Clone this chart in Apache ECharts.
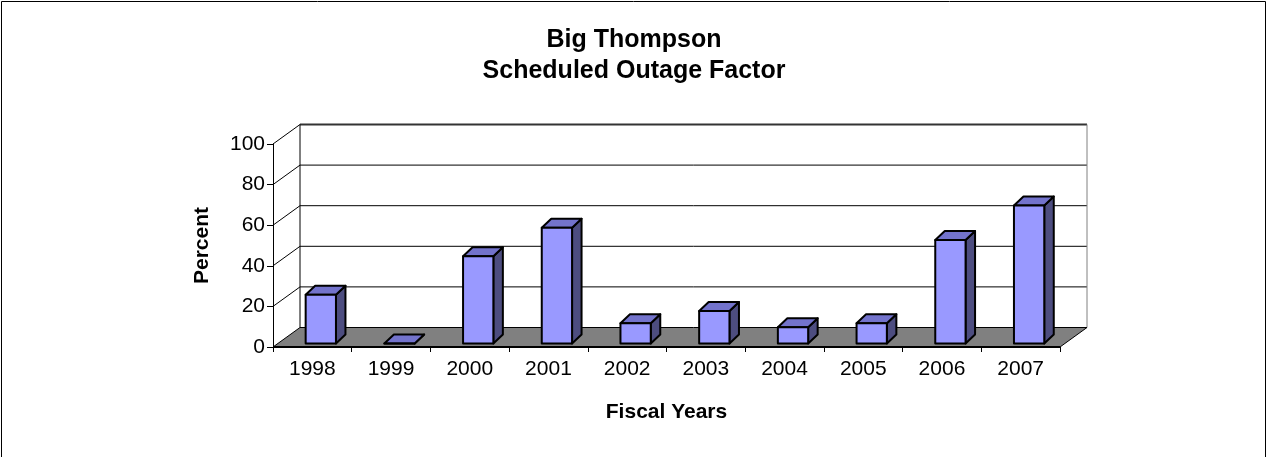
<!DOCTYPE html>
<html>
<head>
<meta charset="utf-8">
<script src="https://cdn.jsdelivr.net/npm/echarts@6/dist/echarts.min.js"></script>
<style>
  html, body { margin: 0; padding: 0; background: #fff; }
  #main { width: 1268px; height: 457px; }
</style>
</head>
<body>
<div id="main"></div>
<script>
// fiscal years and scheduled outage factor (percent)
var years = ['1998', '1999', '2000', '2001', '2002', '2003', '2004', '2005', '2006', '2007'];
var outage = [24, 0, 43, 57, 10, 16, 8, 10, 51, 68];
var yTicks = [0, 20, 40, 60, 80, 100];

var myChart = echarts.init(document.getElementById('main'));
var FONT = '"Liberation Sans", Arial, sans-serif';

// depth of the box (back wall offset) and of the bars
var WALL = [27, -19.5];
var BAR = [9.5, -9];

function renderWalls(params, api) {
    var first = api.coord([0, 0]);
    var last = api.coord([years.length - 1, 0]);
    var w = api.size([1, 0])[0];
    var xl = first[0] - w / 2, xr = last[0] + w / 2;
    var y0 = first[1];
    var ytop = api.coord([0, 100])[1];
    var kids = [];
    // back wall gridlines + diagonals on the side wall
    yTicks.forEach(function (t) {
        var y = api.coord([0, t])[1];
        if (t > 0) {
            kids.push({
                type: 'line',
                shape: { x1: xl + WALL[0], y1: y + WALL[1], x2: xr + WALL[0], y2: y + WALL[1] },
                style: { stroke: t === 100 ? '#333' : '#000', lineWidth: t === 100 ? 2 : 1 }
            });
            kids.push({
                type: 'line',
                shape: { x1: xl, y1: y, x2: xl + WALL[0], y2: y + WALL[1] },
                style: { stroke: '#000', lineWidth: 1 }
            });
        }
    });
    // back wall edges
    kids.push({
        type: 'line',
        shape: { x1: xl + WALL[0], y1: ytop + WALL[1], x2: xl + WALL[0], y2: y0 + WALL[1] },
        style: { stroke: '#000', lineWidth: 1 }
    });
    kids.push({
        type: 'line',
        shape: { x1: xr + WALL[0], y1: ytop + WALL[1], x2: xr + WALL[0], y2: y0 + WALL[1] },
        style: { stroke: '#808080', lineWidth: 1 }
    });
    // floor
    kids.push({
        type: 'polygon',
        shape: { points: [[xl, y0], [xr, y0], [xr + WALL[0], y0 + WALL[1]], [xl + WALL[0], y0 + WALL[1]]] },
        style: { fill: '#808080', stroke: '#000', lineWidth: 1 }
    });
    kids.push({
        type: 'line',
        shape: { x1: xl, y1: y0, x2: xr, y2: y0 },
        style: { stroke: '#000', lineWidth: 2 }
    });
    return { type: 'group', children: kids };
}

function renderBar(params, api) {
    var i = api.value(0);
    var base = api.coord([i, 0]);
    var top = api.coord([i, api.value(1)]);
    var w = api.size([1, 0])[0];
    var x0 = base[0] - 0.085 * w, x1 = base[0] + 0.30 * w;
    var yb = base[1] - 3.5, yt = top[1] - 3.5;
    var st = { stroke: '#000', lineWidth: 2, lineJoin: 'round' };
    return {
        type: 'group',
        children: [
            {
                type: 'polygon',
                shape: { points: [[x1, yt], [x1 + BAR[0], yt + BAR[1]], [x1 + BAR[0], yb + BAR[1]], [x1, yb]] },
                style: Object.assign({ fill: '#4d4d80' }, st)
            },
            {
                type: 'polygon',
                shape: { points: [[x0, yt], [x1, yt], [x1 + BAR[0], yt + BAR[1]], [x0 + BAR[0], yt + BAR[1]]] },
                style: Object.assign({ fill: '#7373cc' }, st)
            },
            {
                type: 'rect',
                shape: { x: x0, y: yt, width: x1 - x0, height: yb - yt },
                style: Object.assign({ fill: '#9999ff' }, st)
            }
        ]
    };
}

var option = {
    backgroundColor: '#fff',
    animation: false,
    title: {
        text: 'Big Thompson\nScheduled Outage Factor',
        left: 'center',
        top: 20,
        textStyle: { fontFamily: FONT, fontSize: 25, fontWeight: 'bold', color: '#000', lineHeight: 31 }
    },
    graphic: [{
        type: 'rect',
        shape: { x: 1.5, y: 1.5, width: 1264, height: 470 },
        style: { fill: 'none', stroke: '#000', lineWidth: 1 },
        silent: true
    }],
    grid: { left: 273, right: 208, top: 144, bottom: 110 },
    xAxis: {
        type: 'category',
        data: years,
        name: 'Fiscal Years',
        nameLocation: 'middle',
        nameGap: 55,
        nameTextStyle: { fontFamily: FONT, fontSize: 21, fontWeight: 'bold', color: '#000' },
        axisLine: { show: false },
        axisTick: { show: true, length: 5, lineStyle: { color: '#000' } },
        axisLabel: { fontFamily: FONT, fontSize: 21, color: '#000', margin: 12 }
    },
    yAxis: {
        type: 'value',
        min: 0,
        max: 100,
        interval: 20,
        name: 'Percent',
        nameLocation: 'middle',
        nameRotate: 90,
        nameGap: 60,
        nameTextStyle: { fontFamily: FONT, fontSize: 21, fontWeight: 'bold', color: '#000' },
        axisLine: { show: true, lineStyle: { color: '#000', width: 1 } },
        axisTick: { show: true, length: 6, lineStyle: { color: '#000' } },
        axisLabel: { fontFamily: FONT, fontSize: 21, color: '#000', margin: 8 },
        splitLine: { show: false }
    },
    series: [
        {
            type: 'custom',
            name: 'walls',
            renderItem: renderWalls,
            data: [[0, 0]],
            encode: { x: 0, y: 1 },
            clip: false,
            silent: true,
            z: 1
        },
        {
            type: 'custom',
            name: 'Scheduled Outage Factor',
            renderItem: renderBar,
            data: outage.map(function (v, i) { return [i, v]; }),
            encode: { x: 0, y: 1 },
            clip: false,
            z: 3
        }
    ]
};
myChart.setOption(option);
</script>
</body>
</html>
